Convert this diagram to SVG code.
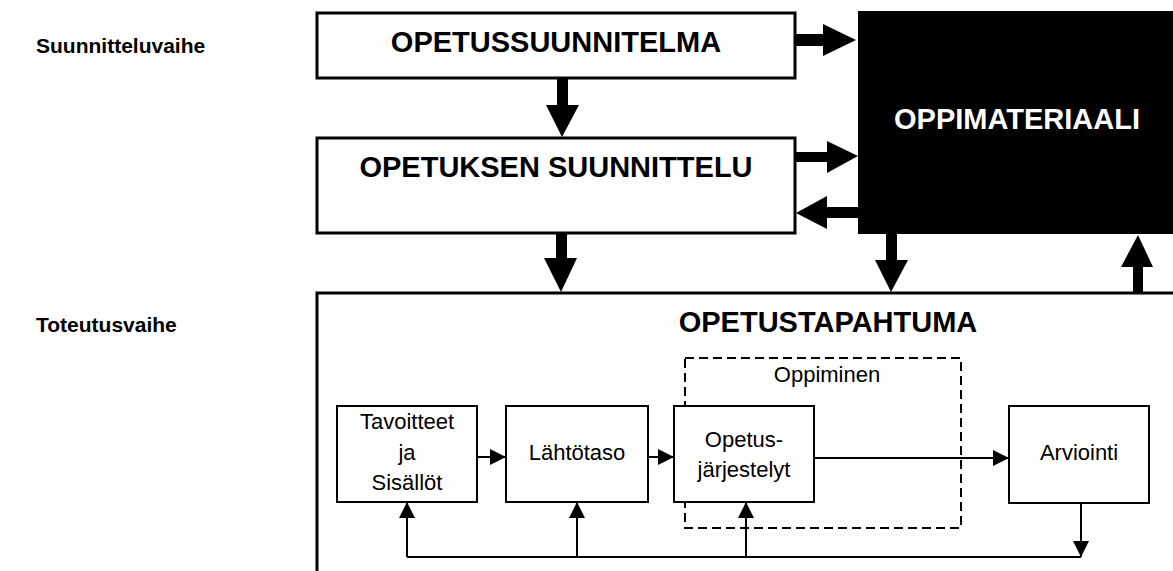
<svg xmlns="http://www.w3.org/2000/svg" width="1173" height="571" viewBox="0 0 1173 571">
<style>
.big{fill:#fff;stroke:#000;stroke-width:3}
.small{fill:#fff;stroke:#000;stroke-width:2}
.title{font-family:"Liberation Sans",Arial,sans-serif;font-weight:bold;font-size:29px;text-anchor:middle}
.lbl{font-family:"Liberation Sans",Arial,sans-serif;font-weight:bold;font-size:21px}
.txt{font-family:"Liberation Sans",Arial,sans-serif;font-size:22px;text-anchor:middle}
.thin{fill:none;stroke:#000;stroke-width:2}
</style>
<defs>
<marker id="ah" viewBox="0 0 10 10" refX="10" refY="5" markerWidth="8" markerHeight="8" markerUnits="strokeWidth" orient="auto">
<path d="M0,0 L10,5 L0,10 Z" fill="#000"/>
</marker>
</defs>
<rect width="1173" height="571" fill="#fff"/>
<text class="lbl" x="36" y="53">Suunnitteluvaihe</text>
<text class="lbl" x="36" y="332">Toteutusvaihe</text>

<g id="opetussuunnitelma">
<rect class="big" x="317" y="13" width="478" height="65"/>
<text class="title" x="556" y="52">OPETUSSUUNNITELMA</text>
</g>
<g id="opetuksen-suunnittelu">
<rect class="big" x="317" y="138" width="478" height="95"/>
<text class="title" x="556" y="177">OPETUKSEN SUUNNITTELU</text>
</g>
<g id="oppimateriaali">
<rect x="858" y="11" width="320" height="223" fill="#000"/>
<text class="title" x="1017" y="129" fill="#fff">OPPIMATERIAALI</text>
</g>
<g id="opetustapahtuma">
<path d="M317,575 V293 H1180" fill="none" stroke="#000" stroke-width="3"/>
<text class="title" x="828" y="332">OPETUSTAPAHTUMA</text>
</g>
<g id="oppiminen">
<rect x="685" y="358" width="276" height="170" fill="none" stroke="#000" stroke-width="2" stroke-dasharray="9,5"/>
<text class="txt" x="827" y="382">Oppiminen</text>
</g>
<g id="tavoitteet">
<rect class="small" x="337" y="406" width="140" height="96"/>
<text class="txt" x="407" y="429">Tavoitteet</text>
<text class="txt" x="407" y="460">ja</text>
<text class="txt" x="407" y="490">Sisällöt</text>
</g>
<g id="lahtotaso">
<rect class="small" x="506" y="406" width="142" height="96"/>
<text class="txt" x="577" y="460">Lähtötaso</text>
</g>
<g id="opetusjarjestelyt">
<rect class="small" x="674" y="406" width="140" height="96"/>
<text class="txt" x="744" y="447">Opetus-</text>
<text class="txt" x="744" y="477">järjestelyt</text>
</g>
<g id="arviointi">
<rect class="small" x="1009" y="406" width="140" height="97"/>
<text class="txt" x="1079" y="460">Arviointi</text>
</g>

<g id="connectors">
<polygon points="557,79 568,79 568,105 579,105 562,137 546,105 557,105"/>
<polygon points="556,233 567,233 567,258 577,258 561,292 544,258 556,258"/>
<polygon points="796,34 823,34 823,24 856,40 823,56 823,46 796,46"/>
<polygon points="796,152 827,152 827,141 858,156 827,173 827,162 796,162"/>
<polygon points="858,207 827,207 827,196 796,213 827,229 827,218 858,218"/>
<polygon points="886,234 897,234 897,260 908,260 891,292 875,260 886,260"/>
<polygon points="1133,293 1143,293 1143,267 1153,267 1138,235 1121,267 1133,267"/>
<line class="thin" x1="477" y1="457" x2="506" y2="457" marker-end="url(#ah)"/>
<line class="thin" x1="648" y1="457" x2="674" y2="457" marker-end="url(#ah)"/>
<line class="thin" x1="814" y1="458" x2="1009" y2="458" marker-end="url(#ah)"/>
<line class="thin" x1="1081" y1="503" x2="1081" y2="557" marker-end="url(#ah)"/>
<polyline class="thin" points="407,557 1081,557"/>
<line class="thin" x1="407" y1="557" x2="407" y2="502" marker-end="url(#ah)"/>
<line class="thin" x1="577" y1="557" x2="577" y2="502" marker-end="url(#ah)"/>
<line class="thin" x1="746" y1="557" x2="746" y2="502" marker-end="url(#ah)"/>
</g>
</svg>
